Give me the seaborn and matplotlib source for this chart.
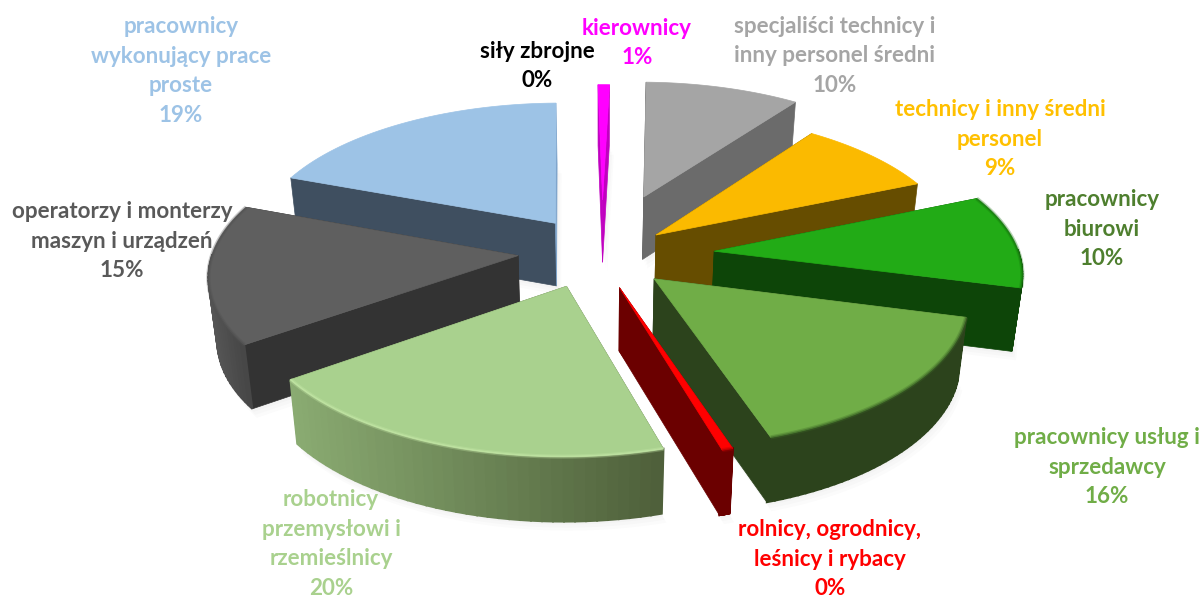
import numpy as np
import matplotlib
matplotlib.use("Agg")
import matplotlib.pyplot as plt
from matplotlib.colors import to_rgb
from matplotlib.patches import Polygon
import seaborn as sns

sns.set_theme(style="white")
plt.rcParams["font.family"] = ["Lato", "DejaVu Sans"]

# data, clockwise from the top
categories = ["kierownicy", "specjaliści technicy i\ninny personel średni",
              "technicy i inny średni\npersonel", "pracownicy\nbiurowi",
              "pracownicy usług i\nsprzedawcy", "rolnicy, ogrodnicy,\nleśnicy i rybacy",
              "robotnicy\nprzemysłowi i\nrzemieślnicy", "operatorzy i monterzy\nmaszyn i urządzeń",
              "pracownicy\nwykonujący prace\nproste", "siły zbrojne"]
values = [0.7, 9.5, 8.6, 10.4, 15.8, 0.5, 19.6, 15.5, 18.9, 0]
labels_pct = [1, 10, 9, 10, 16, 0, 20, 15, 19, 0]
explode = [0.43, 0.47, 0.23, 0.37, 0.23, 0.22, 0.22, 0.25, 0.29, 0.3]
# small screen nudges on top of the explode, in pixels
nudge = [(2, 0), (0, -1), (2, -3), (2, -3), (2, -2), (-1, -1), (-11, -2), (-6, -7), (5, -2), (0, 0)]

top_colors = ["#FF00FF", "#A5A5A5", "#FBBA00", "#22AB16", "#70AD47", "#FF0000",
              "#A9D18E", "#5F5F5F", "#9DC3E6", "#000000"]
flat_colors = ["#C000C0", "#6B6B6B", "#664D00", "#0D4508", "#2C431C", "#6B0000",
               "#4F6039", "#333333", "#3F4F60", "#000000"]
# cut face on the clockwise end, only differs where it is seen at a grazing angle
end_colors = ["#C000C0", "#6B6B6B", "#664D00", "#0D4508", "#2C431C", "#6B0000",
              "#4F6039", "#333333", "#7FA5CC", "#000000"]
arc_left = ["#C000C0", "#6B6B6B", "#664D00", "#0D4508", "#2C431C", "#6B0000",
            "#8AAB72", "#575757", "#3F4F60", "#000000"]
arc_right = ["#C000C0", "#6B6B6B", "#664D00", "#0D4508", "#2C431C", "#6B0000",
             "#4D5E39", "#444444", "#3F4F60", "#000000"]
rim_colors = [None, None, None, "#14700C", "#3F6A28", "#B00000", "#C8EBAA", "#505050", None, None]
label_colors = ["#FF00FF", "#A5A5A5", "#FFC000", "#4E7F2E", "#70AD47", "#FF0000",
                "#A9D18E", "#595959", "#9DC3E6", "#000000"]
label_xy = [(637, 43), (835, 56), (1000, 139), (1102, 229), (1107, 467),
            (830, 559), (331, 544), (122, 241), (181, 71), (537, 66)]

# perspective of the pie plane, in pixels
cx, cy = 600, 258
R, A, k = 305, 142, 0.12
bottom_scale = 0.977


def project(x, y):
    front = -np.asarray(y)
    w = 1 - k * front
    return cx + R * np.asarray(x) / w, cy + A * front / w


def drop(y):
    # thickness of the slice on screen
    return 63 / (1 + k * np.asarray(y)) ** 0.2


def lower(x):
    # the walls lean in a little towards the middle
    return cx + (np.asarray(x) - cx) * bottom_scale


def mix(c1, c2, t):
    return tuple((1 - t) * a + t * b for a, b in zip(to_rgb(c1), to_rgb(c2)))


fig = plt.figure(figsize=(12.03, 5.98), dpi=100)
ax = fig.add_axes([0, 0, 1, 1])
wedges, _ = ax.pie(values, explode=explode, startangle=91, counterclock=False, colors=top_colors)

slices = []
for i, wd in enumerate(wedges):
    theta = np.radians(np.linspace(wd.theta1, wd.theta2, 40))
    x0, y0 = wd.center
    slices.append((i, x0, y0, x0 + wd.r * np.cos(theta), y0 + wd.r * np.sin(theta)))
    wd.remove()

ax.set_xlim(0, 1203)
ax.set_ylim(598, 0)
ax.set_aspect("auto")
ax.axis("off")

# far slices first
order = np.argsort([np.mean(s[4]) for s in slices])[::-1]
for rank, n in enumerate(order):
    i, x0, y0, xa, ya = slices[n]
    if values[i] == 0:
        continue
    px, py = project(xa, ya)
    dy = drop(ya)
    tx, ty = project(x0, y0)
    tdy = drop(y0)
    bx, tbx = lower(px) + nudge[i][0], lower(tx) + nudge[i][0]
    px, tx = px + nudge[i][0], tx + nudge[i][0]
    py, ty = py + nudge[i][1], ty + nudge[i][1]
    z = 2 + rank * 3

    # soft shadow under the slice
    for s in [3, 6, 9]:
        ax.add_patch(Polygon(np.column_stack([np.r_[tbx, bx] + s * 0.5, np.r_[ty + tdy, py + dy] + s]),
                             fc="0.5", ec="none", alpha=0.03, zorder=1))

    # flat cut faces
    for e, col in [(-1, flat_colors[i]), (0, end_colors[i])]:
        ax.add_patch(Polygon([(tx, ty), (px[e], py[e]), (bx[e], py[e] + dy[e]), (tbx, ty + tdy)],
                             fc=col, ec=col, lw=0.5, zorder=z))

    # outer wall, shaded across the screen, only the part facing the viewer
    xmin, xmax = px.min(), px.max()
    for j in range(len(px) - 1):
        if ya[j] - y0 > 0 and ya[j + 1] - y0 > 0:
            continue
        t = (px[j] - xmin) / max(xmax - xmin, 1)
        col = mix(arc_left[i], arc_right[i], t)
        ax.add_patch(Polygon([(px[j], py[j]), (px[j + 1], py[j + 1]),
                              (bx[j + 1], py[j + 1] + dy[j + 1]), (bx[j], py[j] + dy[j])],
                             fc=col, ec=col, lw=1.4, zorder=z + 0.5))

    # top face
    ax.add_patch(Polygon(np.column_stack([np.r_[tx, px], np.r_[ty, py]]),
                         fc=top_colors[i], ec=top_colors[i], lw=0.5, zorder=z + 1))

    # bevel along the rim
    if rim_colors[i] is not None:
        ax.plot(px, py, color=rim_colors[i], lw=3, alpha=0.3, zorder=z + 1.2, solid_capstyle="butt")
        ax.plot(px, py, color=rim_colors[i], lw=1.2, alpha=0.6, zorder=z + 1.3, solid_capstyle="butt")

for i, cat in enumerate(categories):
    ax.text(label_xy[i][0], label_xy[i][1], f"{cat}\n{labels_pct[i]}%", color=label_colors[i],
            ha="center", va="center", fontsize=16.1, fontweight="bold", linespacing=1.5, zorder=100)

plt.savefig("out.png", dpi=100)
